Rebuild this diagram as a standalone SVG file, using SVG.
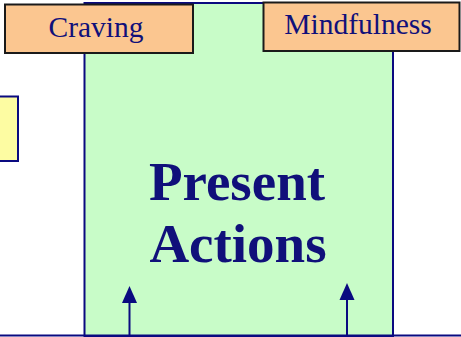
<svg xmlns="http://www.w3.org/2000/svg" width="461" height="337" viewBox="0 0 461 337">
<style>
.lbl{fill:#fbc690;stroke:#1a1a1a;stroke-width:2}
.t{font-family:"Liberation Serif",serif;fill:#10107a;text-anchor:middle}
.big{font-size:55px;font-weight:bold}
.small{font-size:29.5px}
.conn{stroke:#0a0a80;stroke-width:2;fill:none}
.head{fill:#0a0a80}
</style>
<rect width="461" height="337" fill="#ffffff"/>
<g id="present-actions">
<rect x="84.5" y="3" width="308.5" height="333" fill="#c8fcc8" stroke="#0a0a80" stroke-width="2"/>
<text class="t big" x="237" y="200">Present</text>
<text class="t big" x="238" y="262">Actions</text>
</g>
<g id="yellow-box">
<rect x="-2" y="96.5" width="20" height="64.5" fill="#fdfca2" stroke="#0a0a80" stroke-width="2"/>
</g>
<g id="craving">
<rect class="lbl" x="5" y="4.5" width="188" height="48.5"/>
<text class="t small" x="96" y="37">Craving</text>
</g>
<g id="mindfulness">
<rect class="lbl" x="263.5" y="2.5" width="196" height="48.5"/>
<text class="t small" x="358" y="34">Mindfulness</text>
</g>
<g id="connectors">
<line class="conn" x1="0" y1="335.5" x2="461" y2="335.5"/>
<line class="conn" x1="129.5" y1="335" x2="129.5" y2="300"/>
<path class="head" d="M129.5,286 L137,303 L122,303 Z"/>
<line class="conn" x1="347" y1="335" x2="347" y2="296"/>
<path class="head" d="M347,283 L354.5,300 L339.5,300 Z"/>
</g>
</svg>
